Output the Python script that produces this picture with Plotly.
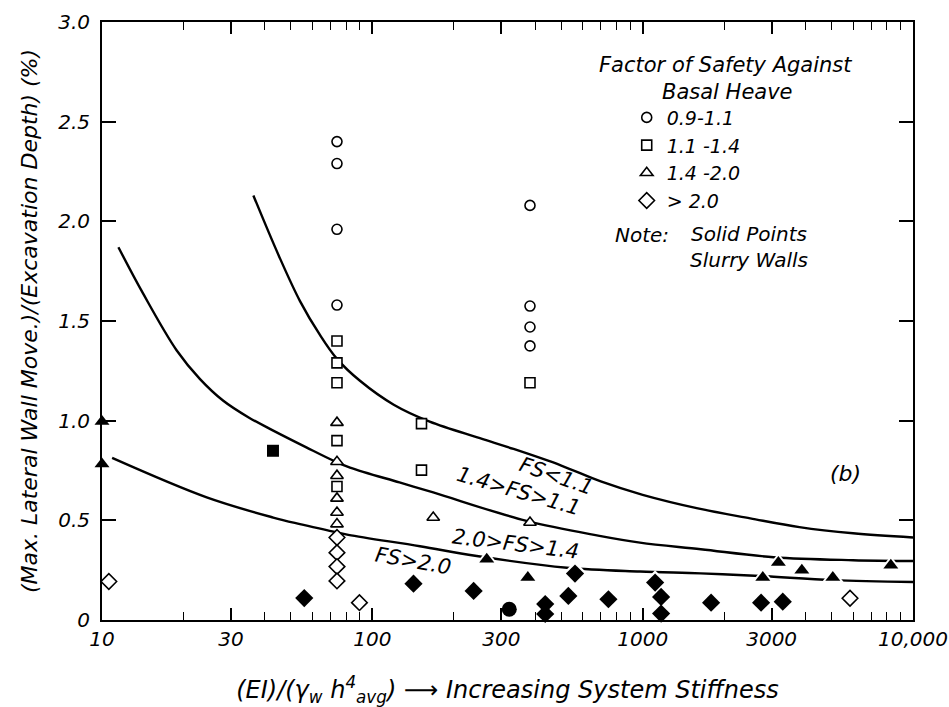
import plotly.graph_objects as go

FONT = "DejaVu Sans"

# ---------------- data ----------------
# boundary curves
curve_fs11_x = [36.3, 45, 54, 64, 74, 90, 120, 163, 250, 333, 500, 700, 1000, 1600, 2500, 3800, 6000, 10000]
curve_fs11_y = [2.13, 1.83, 1.60, 1.43, 1.31, 1.20, 1.08, 0.995, 0.912, 0.858, 0.775, 0.695, 0.628, 0.56, 0.51, 0.466, 0.435, 0.414]

curve_fs14_x = [11.5, 14.2, 18.9, 23, 28.1, 35, 43, 57, 71.6, 82.7, 126, 168, 372, 692, 977, 1640, 3050, 6000, 10000]
curve_fs14_y = [1.87, 1.637, 1.352, 1.21, 1.10, 1.015, 0.95, 0.866, 0.80, 0.765, 0.69, 0.64, 0.497, 0.422, 0.388, 0.355, 0.315, 0.30, 0.296]

curve_fs20_x = [10.9, 24.4, 43, 54, 67.8, 81.5, 150, 240, 525, 977, 1640, 2717, 5060, 10000]
curve_fs20_y = [0.813, 0.615, 0.514, 0.481, 0.451, 0.427, 0.37, 0.322, 0.262, 0.243, 0.234, 0.221, 0.20, 0.191]

# open symbols (not slurry walls)
circ_x = [74, 74, 74, 74, 383, 383, 383, 383]
circ_y = [2.40, 2.29, 1.96, 1.58, 2.08, 1.575, 1.47, 1.375]

sq_x = [74, 74, 74, 74, 74, 152, 152, 383]
sq_y = [1.40, 1.29, 1.19, 0.90, 0.67, 0.985, 0.752, 1.19]

tri_x = [74, 74, 74, 74, 74, 74, 168, 383]
tri_y = [0.99, 0.794, 0.724, 0.61, 0.539, 0.481, 0.514, 0.489]

dia_x = [74, 74, 74, 74, 10.6, 89.6, 5848]
dia_y = [0.414, 0.338, 0.268, 0.196, 0.193, 0.087, 0.109]

# solid symbols (slurry walls)
fcirc_x = [321]
fcirc_y = [0.054]

fsq_x = [42.9]
fsq_y = [0.849]

ftri_x = [10, 10, 265, 376, 2782, 3177, 3880, 5051, 8279]
ftri_y = [0.996, 0.782, 0.305, 0.213, 0.213, 0.288, 0.25, 0.213, 0.275]

fdia_x = [56, 142, 237, 436, 436, 531, 562, 747, 1112, 1170, 1170, 1791, 2742, 3298]
fdia_y = [0.11, 0.182, 0.146, 0.08, 0.03, 0.121, 0.233, 0.104, 0.188, 0.116, 0.032, 0.087, 0.087, 0.092]

legend_labels = ["0.9-1.1", "1.1 -1.4", "1.4 -2.0", "&gt; 2.0"]

x_tickvals = [10, 30, 100, 300, 1000, 3000, 10000]
x_ticktext = ["10", "30", "100", "300", "1000", "3000", "10,000"]
x_minorvals = [20, 40, 50, 60, 70, 80, 90, 200, 400, 500, 600, 700, 800, 900,
               2000, 4000, 5000, 6000, 7000, 8000, 9000]
y_tickvals = [0, 0.5, 1.0, 1.5, 2.0, 2.5, 3.0]
y_ticktext = ["0", "0.5", "1.0", "1.5", "2.0", "2.5", "3.0"]

# ---------------- figure ----------------
fig = go.Figure()

for cx, cy in [(curve_fs11_x, curve_fs11_y), (curve_fs14_x, curve_fs14_y), (curve_fs20_x, curve_fs20_y)]:
    fig.add_trace(go.Scatter(x=cx, y=cy, mode="lines",
                             line=dict(color="black", width=2.4, shape="spline", smoothing=1.0),
                             showlegend=False, hoverinfo="skip"))

# white halos behind solid symbols (gaps in curves)
for hx, hy, sym, s in [(ftri_x, ftri_y, "triangle-up", 19), (fdia_x, fdia_y, "diamond", 19)]:
    fig.add_trace(go.Scatter(x=hx, y=hy, mode="markers", showlegend=False, hoverinfo="skip",
                             marker=dict(symbol=sym, size=s, color="white", line=dict(width=0)),
                             cliponaxis=False))

open_sets = [(circ_x, circ_y, "circle", 10), (sq_x, sq_y, "square", 10),
             (tri_x, tri_y, "triangle-up", 11), (dia_x, dia_y, "diamond", 12)]
for (ox, oy, sym, s), lab in zip(open_sets, legend_labels):
    fig.add_trace(go.Scatter(x=ox, y=oy, mode="markers", name=lab,
                             marker=dict(symbol=sym, size=s, color="white",
                                         line=dict(color="black", width=1.6)),
                             cliponaxis=False))

solid_sets = [(fcirc_x, fcirc_y, "circle", 15), (fsq_x, fsq_y, "square", 12),
              (ftri_x, ftri_y, "triangle-up", 13), (fdia_x, fdia_y, "diamond", 14)]
for sx, sy, sym, s in solid_sets:
    fig.add_trace(go.Scatter(x=sx, y=sy, mode="markers", showlegend=False,
                             marker=dict(symbol=sym, size=s, color="black", line=dict(width=0)),
                             cliponaxis=False))

fig.update_xaxes(type="log", range=[1, 4], tickvals=x_tickvals, ticktext=x_ticktext,
                 ticks="inside", ticklen=12, tickwidth=1.5, tickcolor="black",
                 minor=dict(tickvals=x_minorvals, ticks="inside", ticklen=8, tickwidth=1.2, tickcolor="black"),
                 showline=True, linecolor="black", linewidth=2, mirror="ticks",
                 showgrid=False, zeroline=False, automargin=False,
                 tickfont=dict(family=FONT, size=20, color="black", style="italic"),
                 title=dict(text="(EI)/(γ<sub>w</sub> h<sup>4</sup><sub>avg</sub>) ⟶ Increasing System Stiffness",
                            font=dict(family=FONT, size=24, color="black", style="italic"), standoff=32))
fig.update_yaxes(range=[0, 3], tickvals=y_tickvals, ticktext=y_ticktext,
                 ticks="inside", ticklen=14, tickwidth=1.5, tickcolor="black",
                 showline=True, linecolor="black", linewidth=2, mirror="ticks",
                 showgrid=False, zeroline=False, ticklabelstandoff=6, automargin=False,
                 tickfont=dict(family=FONT, size=20, color="black", style="italic"),
                 title=dict(text="(Max. Lateral Wall Move.)/(Excavation Depth) (%)",
                            font=dict(family=FONT, size=22, color="black", style="italic"), standoff=14))

ann = []
def add_ann(text, x, y, angle=0, xref="x", yref="y", xanchor="center", size=21):
    ann.append(dict(text=text, x=x, y=y, xref=xref, yref=yref, showarrow=False,
                    textangle=angle, xanchor=xanchor, yanchor="middle",
                    font=dict(family=FONT, size=size, color="black", style="italic")))

add_ann("FS&lt;1.1", 2.68, 0.72, 19)
add_ann("1.4&gt;FS&gt;1.1", 2.539, 0.648, 16)
add_ann("2.0&gt;FS&gt;1.4", 2.528, 0.382, 7)
add_ann("FS&gt;2.0", 2.151, 0.296, 10)
add_ann("(b)", 3.75, 0.734, 0, size=22)

add_ann("Factor of Safety Against", 0.769, 0.928, xref="paper", yref="paper", size=21)
add_ann("Basal Heave", 0.771, 0.883, xref="paper", yref="paper", size=21)
add_ann("Note:", 0.630, 0.643, xref="paper", yref="paper", xanchor="left", size=20)
add_ann("Solid Points<br>Slurry Walls", 0.7226, 0.623, xref="paper", yref="paper", xanchor="left", size=20)

fig.update_layout(
    width=949, height=707,
    margin=dict(l=102, r=36, t=22, b=87),
    paper_bgcolor="white", plot_bgcolor="white",
    annotations=ann,
    legend=dict(x=0.647, y=0.872, xanchor="left", yanchor="top",
                bgcolor="rgba(0,0,0,0)", borderwidth=0, tracegroupgap=0,
                font=dict(family=FONT, size=19, color="black", style="italic")),
)

fig.write_html("out.html")
